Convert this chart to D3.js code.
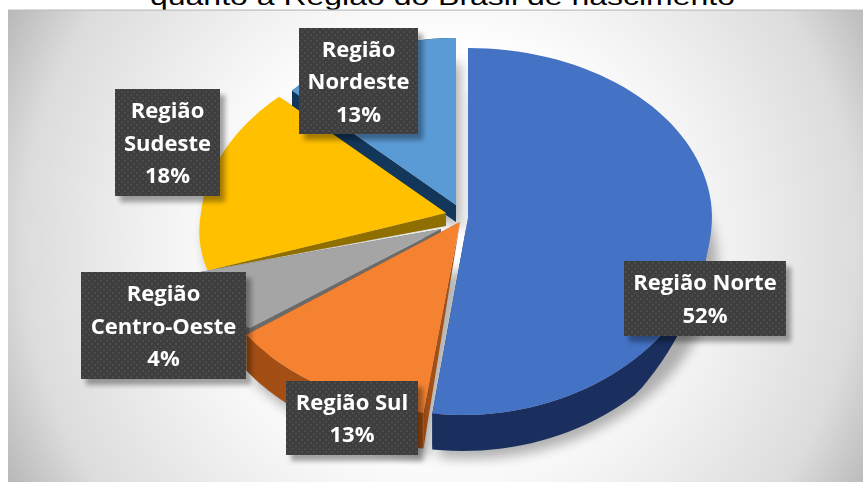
<!DOCTYPE html>
<html><head><meta charset="utf-8">
<style>html,body{margin:0;padding:0;background:#fff}svg{display:block}</style>
<script src="https://cdn.jsdelivr.net/npm/d3@7"></script></head>
<body><svg id="c" width="863" height="483"></svg>
<script>
const categories = ["Região Norte","Região Sul","Região Centro-Oeste","Região Sudeste","Região Nordeste"];
const values = [52,13,4,18,13];
const colors = ["#4472c4","#f58231","#a5a5a5","#ffc000","#5b9bd5"];
const sideColors = ["#1a2f5e","#a34e14","#6b6b6b","#8f6f00","#12375a"];
const labelLines = [["Região Norte","52%"],["Região Sul","13%"],["Região","Centro-Oeste","4%"],["Região","Sudeste","18%"],["Região","Nordeste","13%"]];
const titleText = "quanto a Região do Brasil de nascimento";

// per-slice projection: apex, radii (differ above/below the apex for perspective), shear,
// rim wall depth d, apex wall depth a, optional taper of the rim wall (degrees)
const geom = [
 {cx:468,cy:218,rx:244,rt:170,rb:197,st:0,sb:-0.026,d:36,a:0,taper:[100,135]},
 {cx:460,cy:222,rx:261,rt:170,rb:192,st:0,sb:-0.02,d:36,a:0},
 {cx:441,cy:229,rx:536,rt:168,rb:168,st:0,sb:2.46,d:8,a:6},
 {cx:446,cy:213,rx:245,rt:170,rb:156,st:-0.1,sb:-0.185,d:0,a:13},
 {cx:456,cy:205,rx:225,rt:167,rb:167,st:0,sb:0,d:17,a:17}
];
const boxes = [[624,261,162,75],[286,381,132,74],[81,272,165,107],[115,89,105,107],[299,28,119,106]];

const svg = d3.select("#c");
const defs = svg.append("defs");
const g = defs.append("radialGradient").attr("id","bg").attr("gradientUnits","userSpaceOnUse")
  .attr("cx",440).attr("cy",245).attr("r",492);
g.append("stop").attr("offset","0.4").attr("stop-color","#ffffff");
g.append("stop").attr("offset","0.6").attr("stop-color","#f0f0f0");
g.append("stop").attr("offset","0.85").attr("stop-color","#dcdcdc");
g.append("stop").attr("offset","1").attr("stop-color","#b8b8b8");
defs.append("filter").attr("id","blur").attr("x","-30%").attr("y","-30%").attr("width","160%").attr("height","160%")
  .append("feGaussianBlur").attr("stdDeviation",6);
defs.append("filter").attr("id","blur2").attr("x","-20%").attr("y","-20%").attr("width","140%").attr("height","140%")
  .append("feGaussianBlur").attr("stdDeviation",2.5);
const pat = defs.append("pattern").attr("id","dots").attr("width",6).attr("height",6).attr("patternUnits","userSpaceOnUse");
pat.append("rect").attr("width",6).attr("height",6).attr("fill","#3e3e3e");
pat.append("rect").attr("x",1).attr("y",1).attr("width",2).attr("height",2).attr("fill","#4b4b4b");
pat.append("rect").attr("x",4).attr("y",4).attr("width",2).attr("height",2).attr("fill","#4b4b4b");

svg.append("text").attr("x",442.5).attr("y",5).attr("text-anchor","middle")
  .attr("font-family","Liberation Sans").attr("font-size",24).attr("textLength",585).attr("lengthAdjust","spacingAndGlyphs").attr("fill","#000").text(titleText);
svg.append("rect").attr("x",8).attr("y",10).attr("width",855).attr("height",472).attr("fill","url(#bg)");
svg.append("rect").attr("x",8).attr("y",9.5).attr("width",855).attr("height",1.2).attr("fill","#bdbdbd");

const arcs = d3.pie().sort(null).value(d=>d)(values);
const order = [4,3,2,1,0];

function project(G,t){
  const c=Math.cos(t), dy=c>0?-G.rt*c:-G.rb*c;
  const sh=dy<0?G.st:G.sb;
  return [G.cx+G.rx*Math.sin(t)+sh*dy, G.cy+dy];
}
function samples(a){
  const n=80;
  return d3.range(n+1).map(i=>a.startAngle+(a.endAngle-a.startAngle)*i/n);
}
function depthAt(G,t){
  if(!G.taper) return G.d;
  const f=d3.scaleLinear().domain(G.taper).range([0,G.d]).clamp(true);
  return f(t*180/Math.PI);
}
const line=d3.line();
function topFace(a,G){
  return line([[G.cx,G.cy],...samples(a).map(t=>project(G,t))])+"Z";
}
function wall(a,G){
  const ts=samples(a);
  const rim=d3.area().x(t=>project(G,t)[0]).y0(t=>project(G,t)[1]).y1(t=>project(G,t)[1]+depthAt(G,t))(ts);
  const face=t=>{const p=project(G,t);
    return line([[G.cx,G.cy],p,[p[0],p[1]+depthAt(G,t)],[G.cx,G.cy+G.a]])+"Z";};
  return [rim,face(ts[0]),face(ts[ts.length-1])];
}

const sh = svg.append("g").attr("filter","url(#blur)").attr("opacity",0.45);
order.forEach(i=>{
  const G=geom[i];
  sh.append("path").attr("d",topFace(arcs[i],G))
    .attr("transform",`translate(5,${G.d+8})`).attr("fill","#555");
});

order.forEach(i=>{
  const G=geom[i], a=arcs[i];
  const s=svg.append("g").attr("class","slice");
  wall(a,G).forEach(d=>s.append("path").attr("d",d).attr("fill",sideColors[i]));
  s.append("path").attr("d",topFace(a,G)).attr("fill",colors[i]);
});

const lineH = 32.5;
labelLines.forEach((lines,i)=>{
  const [x,y,w,h]=boxes[i];
  const l=svg.append("g");
  l.append("rect").attr("x",x+5).attr("y",y+6).attr("width",w).attr("height",h)
    .attr("fill","#000").attr("opacity",0.35).attr("filter","url(#blur2)");
  l.append("rect").attr("x",x).attr("y",y).attr("width",w).attr("height",h).attr("fill","url(#dots)");
  const y0=y+h/2-(lines.length-1)*lineH/2+8;
  lines.forEach((t,j)=>l.append("text").attr("x",x+w/2).attr("y",y0+j*lineH)
    .attr("text-anchor","middle").attr("font-family","Open Sans").attr("font-weight",700)
    .attr("font-size",22).attr("fill","#fff").text(t));
});
</script></body></html>
